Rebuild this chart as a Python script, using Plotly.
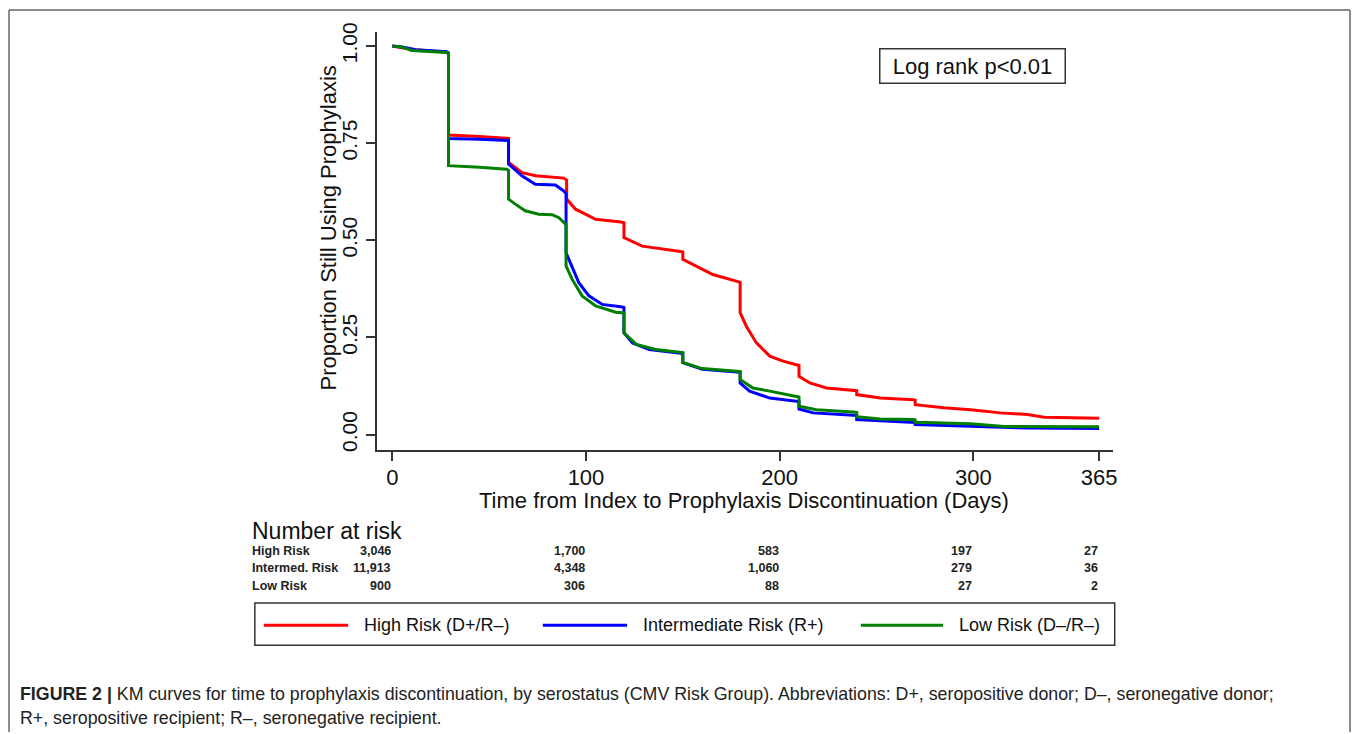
import plotly.graph_objects as go

W, H = 1355, 734

# ---------------- data ----------------
red_t = [0, 5, 12, 20, 28, 29, 29, 45, 60, 60, 67, 74, 88.5, 90, 90, 94.6, 105, 118, 119.6, 119.6,
         129, 148, 150, 150, 165.5, 177.6, 179.6, 179.6, 182.8, 188, 194.9, 201.8, 208.7, 210, 210,
         215.6, 224.2, 239, 239.8, 239.8, 252, 269.2, 270, 270, 284.8, 298.6, 314, 328, 336.6, 365]
red_v = [1.0, 0.995, 0.99, 0.987, 0.984, 0.98, 0.771, 0.767, 0.762, 0.700, 0.674, 0.666, 0.660, 0.655,
         0.606, 0.580, 0.554, 0.547, 0.545, 0.507, 0.485, 0.472, 0.470, 0.451, 0.412, 0.395, 0.392,
         0.314, 0.279, 0.236, 0.202, 0.189, 0.180, 0.178, 0.150, 0.133, 0.120, 0.114, 0.113, 0.103,
         0.094, 0.090, 0.089, 0.077, 0.069, 0.064, 0.056, 0.052, 0.045, 0.042]

blue_t = [0, 5, 12, 20, 28, 29, 29, 45, 60, 60, 66.9, 73.8, 84.2, 88.5, 89.7, 89.7, 92, 96.3, 101.5,
          108.4, 117.9, 119.6, 119.6, 124, 132.6, 148.2, 150, 150, 160, 178, 179.6, 179.6, 184.5,
          194.9, 207, 210, 210, 217.3, 238, 239.8, 239.8, 269.2, 270, 270, 298.6, 328, 365]
blue_v = [1.0, 0.997, 0.99, 0.987, 0.985, 0.982, 0.762, 0.760, 0.757, 0.696, 0.666, 0.644, 0.642,
          0.627, 0.620, 0.468, 0.442, 0.391, 0.357, 0.335, 0.329, 0.327, 0.262, 0.236, 0.219, 0.211,
          0.209, 0.185, 0.168, 0.161, 0.160, 0.133, 0.112, 0.094, 0.086, 0.085, 0.066, 0.056, 0.050,
          0.049, 0.039, 0.032, 0.031, 0.026, 0.021, 0.017, 0.016]

green_t = [0, 5, 10, 20, 28, 29, 29, 45, 59, 60, 60, 63.5, 68.6, 75.6, 82.5, 86, 88.8, 89.7, 89.7,
           92.8, 98, 105, 115.3, 119, 119.6, 119.6, 126, 136, 148.6, 150, 150, 160, 178, 179.6, 179.6,
           186.2, 194.9, 207, 210, 210, 219, 238, 239.8, 239.8, 251.9, 269.2, 270, 270, 298.6, 316, 365]
green_v = [1.0, 0.997, 0.988, 0.985, 0.983, 0.980, 0.692, 0.688, 0.683, 0.680, 0.606, 0.593, 0.576,
           0.567, 0.566, 0.558, 0.546, 0.540, 0.434, 0.400, 0.357, 0.331, 0.315, 0.314, 0.313, 0.262,
           0.232, 0.219, 0.212, 0.211, 0.186, 0.170, 0.163, 0.162, 0.142, 0.120, 0.112, 0.099, 0.097,
           0.073, 0.064, 0.058, 0.057, 0.046, 0.040, 0.039, 0.038, 0.032, 0.028, 0.021, 0.020]

series_names = ["High Risk (D+/R\u2013)", "Intermediate Risk (R+)", "Low Risk (D\u2013/R\u2013)"]
series_colors = ["#ff0000", "#0000ff", "#008000"]

x_ticks = [0, 100, 200, 300, 365]
x_ticklabels = ["0", "100", "200", "300", "365"]
y_ticks = [0, 0.25, 0.5, 0.75, 1.0]
y_ticklabels = ["0.00", "0.25", "0.50", "0.75", "1.00"]

risk_times = [0, 100, 200, 300, 365]
risk_groups = ["High Risk", "Intermed. Risk", "Low Risk"]
risk_high = ["3,046", "1,700", "583", "197", "27"]
risk_inter = ["11,913", "4,348", "1,060", "279", "36"]
risk_low = ["900", "306", "88", "27", "2"]

pvalue_text = "Log rank p<0.01"
x_title = "Time from Index to Prophylaxis Discontinuation (Days)"
y_title = "Proportion Still Using Prophylaxis"
caption1 = ("<b>FIGURE 2 |</b> KM curves for time to prophylaxis discontinuation, by serostatus "
            "(CMV Risk Group). Abbreviations: D+, seropositive donor; D\u2013, seronegative donor;")
caption2 = "R+, seropositive recipient; R\u2013, seronegative recipient."

# ---------------- helpers (target pixel -> paper) ----------------
SX, OY, SY = 0.993, 10.1, 0.983   # calibration of the rendered page


def PX(x):
    return min(max((x / SX) / W, 0.0), 1.0)


def PY(y):
    return min(max(1 - ((y - OY) / SY) / H, 0.0), 1.0)


FONT = "Liberation Sans, Arial, sans-serif"
TXT = "#111111"

fig = go.Figure()
for t, v, name, col in zip([red_t, blue_t, green_t], [red_v, blue_v, green_v], series_names, series_colors):
    fig.add_trace(go.Scatter(x=t, y=v, mode="lines", name=name,
                             line=dict(color=col, width=3), showlegend=False))

fig.update_layout(
    width=W, height=H, autosize=False,
    margin=dict(l=0, r=0, t=0, b=0),
    paper_bgcolor="white", plot_bgcolor="white",
    font=dict(family=FONT, color=TXT),
    xaxis=dict(domain=[PX(376), PX(1109)], range=[-7.8, 372],
               tickvals=x_ticks, ticktext=x_ticklabels,
               ticks="outside", ticklen=9, tickwidth=1.5, tickcolor="#333333",
               showline=True, linecolor="#333333", linewidth=2,
               showgrid=False, zeroline=False,
               tickfont=dict(size=22, color=TXT), ticklabelstandoff=-2),
    yaxis=dict(domain=[PY(450), PY(33)], range=[-0.039, 1.036],
               tickvals=y_ticks, ticktext=y_ticklabels, tickangle=-90,
               ticks="outside", ticklen=9, tickwidth=1.5, tickcolor="#333333",
               showline=True, linecolor="#333333", linewidth=2,
               showgrid=False, zeroline=False,
               tickfont=dict(size=21, color=TXT), ticklabelstandoff=1),
)

annotations = []
shapes = []

# axis titles
annotations.append(dict(text=x_title, x=PX(742), y=PY(501), xref="paper", yref="paper",
                        showarrow=False, xanchor="center", yanchor="middle",
                        font=dict(size=22, color=TXT)))
annotations.append(dict(text=y_title, x=PX(327), y=PY(229), xref="paper", yref="paper",
                        showarrow=False, xanchor="center", yanchor="middle", textangle=-90,
                        font=dict(size=22, color=TXT)))

# log-rank box
annotations.append(dict(text=pvalue_text, x=PX(969), y=PY(66.5), xref="paper", yref="paper",
                        showarrow=False, font=dict(size=22, color=TXT),
                        width=178, height=27, align="center",
                        bordercolor="#333333", borderwidth=1.5, borderpad=3,
                        xanchor="center", yanchor="middle"))

# number at risk table
annotations.append(dict(text="Number at risk", x=PX(249), y=PY(531), xref="paper", yref="paper",
                        showarrow=False, xanchor="left", yanchor="middle",
                        font=dict(size=23, color=TXT)))
row_y = [551, 568, 586]
for gname, vals, ry in zip(risk_groups, [risk_high, risk_inter, risk_low], row_y):
    annotations.append(dict(text="<b>%s</b>" % gname, x=PX(249), y=PY(ry), xref="paper", yref="paper",
                            showarrow=False, xanchor="left", yanchor="middle",
                            font=dict(size=12.5, color="#222222")))
    for tt, val in zip(risk_times, vals):
        annotations.append(dict(text="<b>%s</b>" % val, x=tt, y=PY(ry), xref="x", yref="paper",
                                showarrow=False, xanchor="right", yanchor="middle", xshift=1,
                                font=dict(size=12.5, color="#222222")))

# legend (manual)
shapes.append(dict(type="rect", xref="paper", yref="paper",
                   x0=PX(254), x1=PX(1111), y0=PY(645), y1=PY(603),
                   line=dict(color="#333333", width=1.5), fillcolor="rgba(0,0,0,0)"))
leg_line_x = [(263, 347), (541, 625), (858, 940)]
leg_text_x = [361, 639, 954]
for name, col, (a, b), tx in zip(series_names, series_colors, leg_line_x, leg_text_x):
    shapes.append(dict(type="line", xref="paper", yref="paper", x0=PX(a), x1=PX(b),
                       y0=PY(625), y1=PY(625), line=dict(color=col, width=3)))
    annotations.append(dict(text=name, x=PX(tx), y=PY(625), xref="paper", yref="paper",
                            showarrow=False, xanchor="left", yanchor="middle",
                            font=dict(size=18, color=TXT)))

# outer frame
top = min(PY(8), 1 - 1.0 / H)
shapes.append(dict(type="line", xref="paper", yref="paper", x0=PX(9), x1=PX(9), y0=0, y1=top,
                   line=dict(color="#666666", width=1.5)))
shapes.append(dict(type="line", xref="paper", yref="paper", x0=PX(9), x1=PX(1351), y0=top, y1=top,
                   line=dict(color="#666666", width=1.5)))
shapes.append(dict(type="line", xref="paper", yref="paper", x0=PX(1351), x1=PX(1351), y0=0, y1=top,
                   line=dict(color="#666666", width=1.5)))

# caption
CAP_FONT = "Liberation Sans Narrow, Liberation Sans, Arial, sans-serif"
annotations.append(dict(text=caption1, x=PX(18), y=PY(694), xref="paper", yref="paper",
                        showarrow=False, xanchor="left", yanchor="middle",
                        font=dict(size=17.8, color="#222222", family=CAP_FONT)))
annotations.append(dict(text=caption2, x=PX(18), y=PY(718), xref="paper", yref="paper",
                        showarrow=False, xanchor="left", yanchor="middle",
                        font=dict(size=17.8, color="#222222", family=CAP_FONT)))

fig.update_layout(annotations=annotations, shapes=shapes)

page_js = (
    "document.documentElement.style.margin='0';"
    "document.documentElement.style.overflow='hidden';"
    "document.body.style.margin='0';"
    "document.body.style.overflow='hidden';"
    "var gdiv=document.querySelector('.plotly-graph-div');"
    "if(gdiv){gdiv.style.position='fixed';gdiv.style.left='0px';gdiv.style.top='0px';}"
)
fig.write_html("out.html", config={"displayModeBar": False}, post_script=page_js)
